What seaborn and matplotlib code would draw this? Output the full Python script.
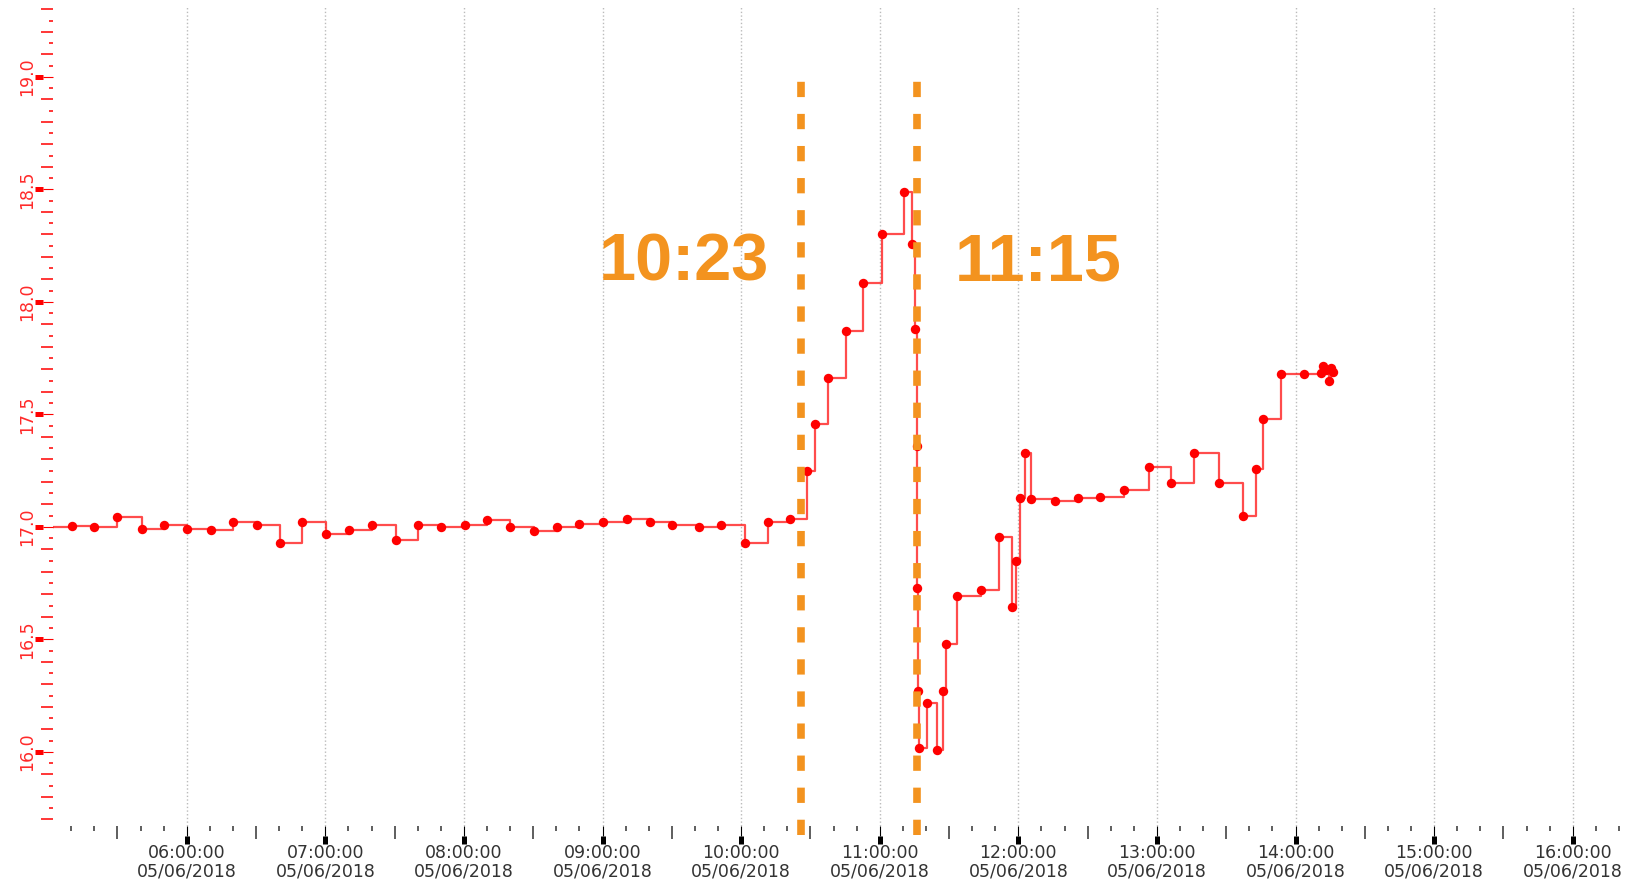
import seaborn as sns
import pandas as pd
import matplotlib.pyplot as plt
import matplotlib.dates as mdates
from matplotlib.ticker import MultipleLocator, NullLocator

sns.set_theme(style="ticks")
plt.rcParams['font.family'] = ['DejaVu Sans']

# readings (time of day, value)
times = ["05:00:00", "05:10:30", "05:20:00", "05:30:00", "05:40:30", "05:50:00",
         "06:00:20", "06:10:30", "06:20:00", "06:30:30", "06:40:20", "06:50:00",
         "07:00:20", "07:10:15", "07:20:00", "07:30:30", "07:40:20", "07:50:00",
         "08:00:30", "08:10:10", "08:20:00", "08:30:30", "08:40:10", "08:50:00",
         "09:00:20", "09:10:45", "09:20:35", "09:30:15", "09:41:40", "09:51:20",
         "10:01:40", "10:11:30", "10:21:15", "10:28:25", "10:31:55", "10:37:45",
         "10:45:25", "10:52:35", "11:00:50", "11:10:30", "11:14:05", "11:15:20",
         "11:16:00", "11:16:20", "11:16:35", "11:16:50", "11:20:25", "11:24:45",
         "11:27:20", "11:28:45", "11:33:35", "11:44:00", "11:51:50", "11:57:20",
         "11:59:00", "12:00:40", "12:02:55", "12:05:30", "12:16:00", "12:25:40",
         "12:35:25", "12:45:55", "12:56:35", "13:06:05", "13:16:05", "13:26:55",
         "13:37:20", "13:43:05", "13:46:00", "13:53:35", "14:03:40", "14:11:00",
         "14:12:00", "14:13:00", "14:14:25", "14:15:20", "14:16:10"]
values = [17.000, 17.004, 16.997, 17.042, 16.991, 17.006,
          16.990, 16.984, 17.021, 17.006, 16.926, 17.021,
          16.970, 16.984, 17.006, 16.941, 17.006, 16.997,
          17.006, 17.028, 16.997, 16.982, 16.997, 17.012,
          17.020, 17.034, 17.020, 17.006, 16.997, 17.006,
          16.926, 17.020, 17.034, 17.248, 17.455, 17.662,
          17.870, 18.084, 18.300, 18.486, 18.255, 17.877,
          17.359, 16.729, 16.270, 16.015, 16.215, 16.008,
          16.270, 16.477, 16.692, 16.719, 16.956, 16.642,
          16.849, 17.129, 17.329, 17.122, 17.114, 17.126,
          17.133, 17.163, 17.264, 17.193, 17.329, 17.193,
          17.049, 17.256, 17.479, 17.680, 17.680, 17.682,
          17.714, 17.696, 17.649, 17.705, 17.689]

event_lines = ["10:26:00", "11:16:00"]
event_labels = ["10:23", "11:15"]

day = "2018-06-05 "
df = pd.DataFrame({"time": pd.to_datetime([day + t for t in times]), "value": values})

x_lo, x_hi = pd.Timestamp(day + "05:02:07"), pd.Timestamp(day + "16:22:37")
y_lo, y_hi = 15.67, 19.31

fig = plt.figure(figsize=(16.29, 8.85), dpi=100)
ax = fig.add_axes([53 / 1629, 59 / 885, 1572 / 1629, 819 / 885])

sns.lineplot(data=df, x="time", y="value", ax=ax, drawstyle="steps-post",
             color="red", alpha=0.7, lw=1.6, estimator=None)
sns.scatterplot(data=df, x="time", y="value", ax=ax, color="red", s=46,
                linewidth=0, zorder=3)

orange = "#F3931F"
top_frac = (19.0 - y_lo) / (y_hi - y_lo)
for t in event_lines:
    ax.axvline(pd.Timestamp(day + t), ymin=-0.011, ymax=top_frac, color=orange,
               lw=5.5, dashes=(2.0, 2.2), clip_on=False, zorder=4)

ax.text(pd.Timestamp(day + "10:12:05"), 18.095, event_labels[0], color=orange,
        fontsize=48, fontweight="bold", family="Liberation Sans", ha="right", va="baseline")
ax.text(pd.Timestamp(day + "11:32:30"), 18.095, event_labels[1], color=orange,
        fontsize=48, fontweight="bold", family="Liberation Sans", ha="left", va="baseline")

ax.set_xlim(x_lo, x_hi)
ax.set_ylim(y_lo, y_hi)
ax.set_xlabel("")
ax.set_ylabel("")
for s in ax.spines.values():
    s.set_visible(False)

# x axis
ax.xaxis.set_major_locator(mdates.HourLocator())
ax.xaxis.set_minor_locator(mdates.MinuteLocator(byminute=range(0, 60, 10)))
ax.xaxis.set_major_formatter(mdates.DateFormatter("%H:%M:%S\n%d/%m/%Y"))
ax.tick_params(axis="x", which="major", bottom=True, length=7.2, width=0.8,
               color="black", labelsize=12.5, labelcolor="#333333", pad=5.5)
ax.tick_params(axis="x", which="minor", bottom=True, length=3.6, width=1.1, color="#333333")
ax.grid(axis="x", which="major", linestyle=":", color="#bbbbbb", lw=1)
ax.grid(axis="y", visible=False)

# y axis
ax.yaxis.set_major_locator(MultipleLocator(0.5))
ax.yaxis.set_minor_locator(MultipleLocator(0.05))
ax.tick_params(axis="y", which="major", left=True, length=7.2, width=0.8, color="red",
               labelsize=12.5, labelcolor="#ff2a2a", labelrotation=90, pad=5)
ax.tick_params(axis="y", which="minor", left=True, length=2.9, width=1.1, color="red")
for lab in ax.get_yticklabels():
    lab.set_va("center")

# longer minor ticks at :30 and at every 0.1
for tick, loc in zip(ax.xaxis.get_minor_ticks(), ax.xaxis.get_minorticklocs()):
    if mdates.num2date(loc).minute == 30:
        tick.tick1line.set_markersize(9.1)
for tick, loc in zip(ax.yaxis.get_minor_ticks(), ax.yaxis.get_minorticklocs()):
    if abs(loc * 10 - round(loc * 10)) < 1e-6:
        tick.tick1line.set_markersize(8.6)
for tick in ax.xaxis.get_major_ticks():
    tick.label1.set_linespacing(1.05)

# thick ends of the major ticks
secx = ax.secondary_xaxis(-10 / 819)
secx.xaxis.set_major_locator(mdates.HourLocator())
secx.xaxis.set_minor_locator(NullLocator())
secx.tick_params(axis="x", length=5.8, width=3.6, color="black", labelbottom=False)
secx.spines["bottom"].set_visible(False)

secy = ax.secondary_yaxis(-10 / 1572)
secy.yaxis.set_major_locator(MultipleLocator(0.5))
secy.yaxis.set_minor_locator(NullLocator())
secy.tick_params(axis="y", length=5.8, width=3.6, color="red", labelleft=False)
secy.spines["left"].set_visible(False)

plt.savefig("out.png", dpi=100)
